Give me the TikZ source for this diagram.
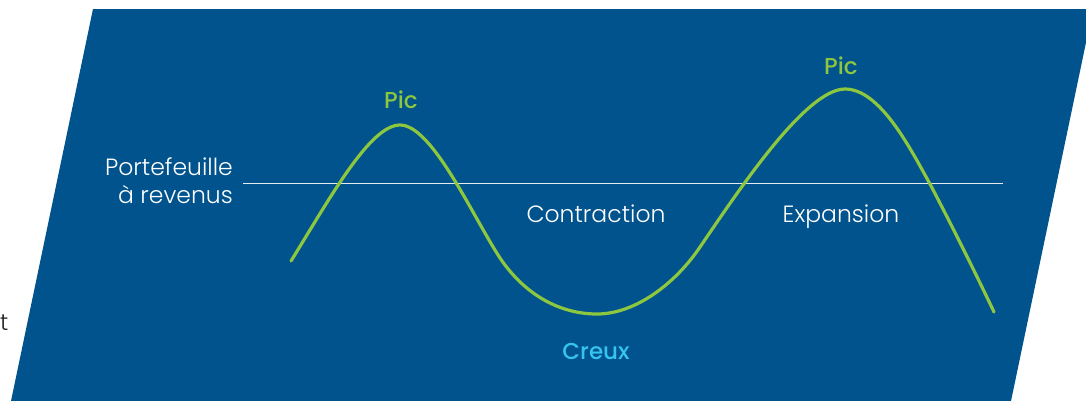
\documentclass[tikz,border=0pt]{standalone}
\usepackage{fontspec}
\setmainfont{Poppins}[UprightFont=* Light, BoldFont=* Medium]
\definecolor{bgblue}{HTML}{00538C}
\definecolor{cgreen}{HTML}{8DC63F}
\definecolor{ccyan}{HTML}{35C4F0}
\definecolor{cline}{HTML}{E6EBF0}
\tikzset{
  lbl/.style={text=white, font=\fontsize{23.5}{28}\selectfont, inner sep=0pt},
  pic/.style={text=cgreen, font=\fontsize{23}{26}\selectfont\bfseries, inner sep=0pt},
  wave/.style={cgreen, line width=3.2pt, line cap=round},
}
\begin{document}
\begin{tikzpicture}[x=1pt,y=-1pt]
\useasboundingbox (0,0) rectangle (1086,400);
\fill[white] (0,0) rectangle (1086,400);
\fill[bgblue] (93,9) -- (1093,9) -- (1011,401) -- (11,401) -- cycle;
\node[anchor=base west, text=black!85, font=\fontsize{23}{26}\selectfont, inner sep=0pt] (t) at (0,330) {t};
\coordinate (la) at (243,183.5);
\coordinate (lb) at (1003,183.5);
\draw[cline, line width=1.4pt] (la) -- (lb);
\node[lbl, anchor=base east, align=right] (port) at (233,203) {Portefeuille\\à revenus};
\node[lbl, anchor=base] (contr) at (596,222) {Contraction};
\node[lbl, anchor=base] (expan) at (841,222) {Expansion};
\node[pic, anchor=base] (pic1) at (401,108) {Pic};
\node[pic, anchor=base] (pic2) at (841,74) {Pic};
\node[pic, anchor=base, text=ccyan] (creux) at (596,359) {Creux};
\coordinate (s) at (291,261);
\coordinate (p1) at (400,125);
\coordinate (i1) at (500,258);
\coordinate (tr) at (597,314);
\coordinate (i2) at (700,247);
\coordinate (p2) at (845,89);
\coordinate (c3) at (930,184);
\coordinate (e) at (994,312);
\draw[wave] (s) .. controls (330,198) and (370,125) .. (p1)
  .. controls (432,125) and (472,215) .. (i1)
  .. controls (525,295) and (560,314) .. (tr)
  .. controls (635,314) and (675,284) .. (i2)
  .. controls (735,196) and (805,89) .. (p2)
  .. controls (880,89) and (910,148) .. (c3)
  .. controls (950,222) and (975,272) .. (e);
\end{tikzpicture}
\end{document}
